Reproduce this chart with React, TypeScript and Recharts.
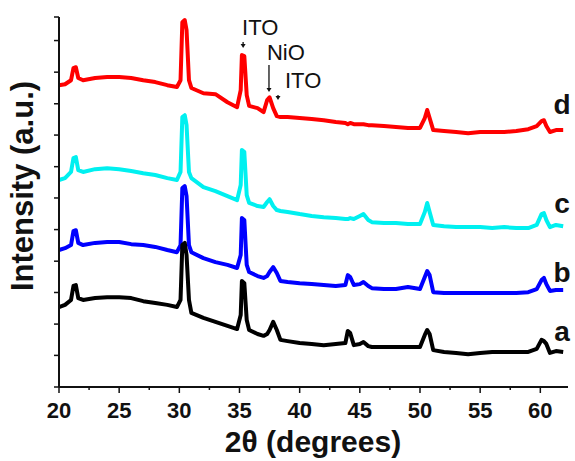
import { LineChart, Line, XAxis, YAxis, ReferenceDot, Label } from "recharts";

// 2θ grid shared by all four patterns
const theta = [
  20, 20.5, 21, 21.2, 21.4, 21.6, 22, 23, 24, 25, 26, 27, 28, 29, 29.8, 30.1, 30.25, 30.45, 30.6, 30.8,
  31, 32, 33, 34, 34.8, 35.1, 35.2, 35.4, 35.6, 35.8, 36.5, 37, 37.3, 37.5, 37.8, 38.1, 38.4, 39, 40, 41,
  42, 43, 43.8, 44, 44.2, 44.5, 45, 45.3, 45.7, 46, 47, 48, 49, 50, 50.4, 50.6, 50.8, 51.1, 52, 53,
  54, 55, 56, 57, 58, 59, 59.7, 60.1, 60.3, 60.5, 60.8, 61.3, 61.9,
];

// stacked intensities (a.u.)
const patternA = [
  258, 265, 281, 326, 329, 287, 281, 287, 290, 290, 287, 277, 271, 265, 258, 281, 458, 465, 426, 281,
  239, 223, 210, 197, 187, 232, 342, 335, 216, 184, 171, 165, 171, 184, 210, 184, 152, 148, 142, 139,
  135, 139, 142, 181, 174, 135, 139, 145, 132, 129, 129, 129, 129, 129, 168, 184, 171, 119, 113, 110,
  106, 110, 113, 113, 113, 113, 123, 152, 148, 139, 110, 116, 113,
];
const patternB = [
  442, 448, 458, 503, 506, 465, 458, 465, 468, 468, 461, 458, 452, 442, 435, 458, 642, 648, 616, 458,
  435, 416, 403, 394, 384, 426, 545, 539, 394, 371, 358, 352, 358, 371, 387, 368, 342, 339, 335, 332,
  329, 326, 329, 361, 355, 329, 332, 339, 326, 319, 316, 316, 323, 316, 355, 374, 361, 306, 303, 303,
  303, 303, 303, 303, 303, 306, 316, 345, 352, 332, 310, 313, 313,
];
const patternC = [
  668, 674, 694, 739, 742, 700, 694, 703, 706, 703, 697, 690, 684, 674, 668, 694, 871, 877, 845, 694,
  674, 645, 632, 616, 603, 652, 765, 758, 619, 594, 584, 581, 597, 606, 584, 571, 568, 565, 558, 552,
  548, 545, 542, 542, 545, 542, 552, 558, 539, 532, 529, 529, 526, 526, 565, 594, 565, 523, 519, 516,
  516, 516, 513, 516, 513, 513, 523, 558, 561, 539, 516, 523, 519,
];
const patternD = [
  974, 977, 990, 1029, 1032, 997, 990, 997, 1000, 1000, 997, 990, 984, 974, 968, 990, 1177, 1184, 1152, 990,
  965, 948, 945, 919, 903, 958, 1071, 1068, 942, 907, 900, 887, 926, 935, 900, 874, 871, 871, 868, 865,
  861, 855, 852, 848, 852, 848, 848, 848, 845, 845, 842, 839, 836, 836, 868, 894, 868, 829, 826, 823,
  819, 823, 823, 823, 826, 832, 842, 858, 861, 842, 823, 829, 829,
];

const xTicks = [20, 22.5, 25, 27.5, 30, 32.5, 35, 37.5, 40, 42.5, 45, 47.5, 50, 52.5, 55, 57.5, 60];
const yTicks = [0, 102, 203, 305, 406, 508, 610, 711, 813, 914, 1016, 1118, 1194];

// peak annotations on pattern d
const peakNames = ["ITO", "NiO", "ITO"];
const peakTheta = [35.3, 37.45, 38.2];
const peakArrowTip = [1094, 952, 926];

const seriesLabels = ["a", "b", "c", "d"];
const seriesLabelY = [150, 340, 560, 880];

const data = theta.map((t, i) => ({
  theta: t,
  a: patternA[i],
  b: patternB[i],
  c: patternC[i],
  d: patternD[i],
}));

const FONT = "'Liberation Sans', Arial, sans-serif";

const XTick = ({ x, y, payload }: any) => {
  const major = payload.value % 5 === 0;
  return (
    <g>
      <line x1={x} x2={x} y1={y} y2={y + (major ? 6 : 3)} stroke="#111" strokeWidth={1.5} />
      {major && (
        <text x={x} y={y + 31} textAnchor="middle" fontFamily={FONT} fontWeight="bold" fontSize={22} fill="#111">
          {payload.value}
        </text>
      )}
    </g>
  );
};

const YTick = ({ x, y }: any) => (
  <line x1={x - 5} x2={x} y1={y} y2={y} stroke="#111" strokeWidth={1.5} />
);

const annotationStyle = [
  { dx: -1, textDy: -13, arrowLen: 6 },
  { dx: -2, textDy: -32, arrowLen: 27 },
  { dx: 7, textDy: -12, arrowLen: 5 },
];

const PeakMark = (idx: number) => (props: any) => {
  const { cx, cy } = props;
  const s = annotationStyle[idx];
  return (
    <g>
      <line x1={cx} x2={cx} y1={cy - s.arrowLen} y2={cy - 3} stroke="#111" strokeWidth={1.3} />
      <path d={`M${cx - 2.5},${cy - 4} L${cx + 2.5},${cy - 4} L${cx},${cy} Z`} fill="#111" />
      <text x={cx + s.dx} y={cy + s.textDy} fontFamily={FONT} fontSize={22} fill="#111">
        {peakNames[idx]}
      </text>
    </g>
  );
};

const SeriesTag = (idx: number) => (props: any) => (
  <text x={props.cx} y={props.cy} textAnchor="middle" fontFamily={FONT} fontWeight="bold" fontSize={28} fill="#111">
    {seriesLabels[idx]}
  </text>
);

export default function App() {
  return (
    <div style={{ position: "absolute", left: 0, top: 0, background: "#fff" }}>
      <LineChart width={575} height={461} data={data} margin={{ top: 17, right: 7, bottom: 0, left: 0 }}>
        <XAxis
          dataKey="theta"
          type="number"
          domain={[20, 62.3]}
          ticks={xTicks}
          interval={0}
          tickSize={0}
          tickMargin={0}
          tick={<XTick />}
          height={74}
          stroke="#111"
          strokeWidth={2}
        >
          <Label
            content={() => (
              <text x={313} y={452} textAnchor="middle" fontFamily={FONT} fontWeight="bold" fontSize={30} fill="#111">
                2θ (degrees)
              </text>
            )}
          />
        </XAxis>
        <YAxis
          type="number"
          domain={[0, 1194]}
          ticks={yTicks}
          interval={0}
          tickSize={0}
          tickMargin={0}
          tick={<YTick />}
          width={59}
          stroke="#111"
          strokeWidth={2}
        >
          <Label
            content={() => (
              <text
                transform="translate(33,186) rotate(-90)"
                textAnchor="middle"
                fontFamily={FONT}
                fontWeight="bold"
                fontSize={31}
                fill="#111"
              >
                Intensity (a.u.)
              </text>
            )}
          />
        </YAxis>
        <Line dataKey="d" stroke="#ff0000" strokeWidth={4} dot={false} isAnimationActive={false} strokeLinejoin="round" />
        <Line dataKey="c" stroke="#00f0f0" strokeWidth={4} dot={false} isAnimationActive={false} strokeLinejoin="round" />
        <Line dataKey="b" stroke="#0000ff" strokeWidth={4} dot={false} isAnimationActive={false} strokeLinejoin="round" />
        <Line dataKey="a" stroke="#000000" strokeWidth={4} dot={false} isAnimationActive={false} strokeLinejoin="round" />
        {peakTheta.map((t, i) => (
          <ReferenceDot key={"p" + i} x={t} y={peakArrowTip[i]} r={0} shape={PeakMark(i)} ifOverflow="visible" />
        ))}
        {seriesLabels.map((s, i) => (
          <ReferenceDot key={s} x={61.8} y={seriesLabelY[i]} r={0} shape={SeriesTag(i)} ifOverflow="visible" />
        ))}
      </LineChart>
    </div>
  );
}
